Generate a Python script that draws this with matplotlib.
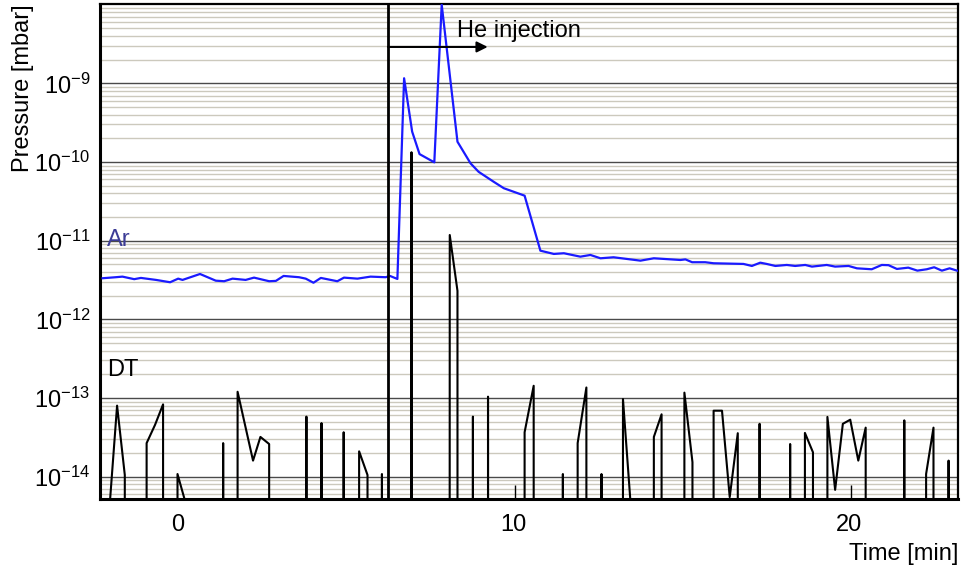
import matplotlib
matplotlib.use("Agg")
import matplotlib.pyplot as plt
from matplotlib.ticker import FixedLocator, LogFormatterSciNotation, NullLocator

plt.rcParams["font.family"] = ["Liberation Sans", "DejaVu Sans"]
plt.rcParams["mathtext.fontset"] = "custom"
plt.rcParams["mathtext.rm"] = "Liberation Sans"
plt.rcParams["mathtext.it"] = "Liberation Sans:italic"
plt.rcParams["mathtext.bf"] = "Liberation Sans:bold"

# Argon partial pressure [mbar] vs time [min]
ar_time = [-2.24, -1.85, -1.65, -1.30, -1.10, -0.65, -0.23, 0.01, 0.14, 0.66,
           1.13, 1.38, 1.63, 2.02, 2.27, 2.72, 2.92, 3.15, 3.61, 3.81,
           4.04, 4.26, 4.75, 4.95, 5.35, 5.74, 6.19, 6.32, 6.54,
           6.74, 6.98, 7.20, 7.64, 7.86, 8.33, 8.72, 8.96, 9.41, 9.71,
           10.33, 10.80, 11.20, 11.50, 11.99, 12.29, 12.59, 12.98, 13.78, 14.18,
           14.97, 15.12, 15.32, 15.71, 15.96, 16.85, 17.10, 17.35, 17.54, 17.80,
           18.14, 18.39, 18.69, 18.89, 19.33, 19.58, 19.98, 20.23, 20.67, 20.97,
           21.17, 21.42, 21.76, 22.03, 22.31, 22.53, 22.76, 22.99, 23.21]
ar_pressure = [3.33e-12, 3.43e-12, 3.49e-12, 3.24e-12, 3.36e-12, 3.17e-12, 2.96e-12, 3.29e-12, 3.17e-12, 3.77e-12,
               3.10e-12, 3.05e-12, 3.29e-12, 3.17e-12, 3.39e-12, 3.05e-12, 3.08e-12, 3.56e-12, 3.43e-12, 3.29e-12,
               2.92e-12, 3.36e-12, 3.05e-12, 3.39e-12, 3.29e-12, 3.49e-12, 3.43e-12, 3.56e-12, 3.26e-12,
               1.16e-9, 2.43e-10, 1.26e-10, 9.9e-11, 1.0e-8, 1.81e-10, 9.6e-11, 7.5e-11, 5.6e-11, 4.64e-11,
               3.73e-11, 7.46e-12, 6.78e-12, 6.92e-12, 6.26e-12, 6.58e-12, 5.97e-12, 6.15e-12, 5.57e-12, 5.97e-12,
               5.68e-12, 5.78e-12, 5.32e-12, 5.32e-12, 5.16e-12, 5.06e-12, 4.77e-12, 5.25e-12, 5.06e-12, 4.77e-12,
               4.91e-12, 4.77e-12, 4.91e-12, 4.68e-12, 4.91e-12, 4.68e-12, 4.77e-12, 4.45e-12, 4.33e-12, 4.91e-12,
               4.88e-12, 4.37e-12, 4.54e-12, 4.16e-12, 4.33e-12, 4.59e-12, 4.16e-12, 4.45e-12, 4.16e-12]

# DT partial pressure [mbar]; 0 = below detection
dt_time = [-2.25, -2.02, -1.81, -1.58, -1.25, -0.93, -0.68, -0.44, -0.22, -0.01,
           0.21, 0.80, 1.35, 1.60, 1.78, 2.24, 2.46, 2.72, 3.30, 3.83,
           4.05, 4.28, 4.60, 4.94, 5.20, 5.40, 5.65, 5.90, 6.08, 6.50,
           6.96, 7.50, 8.10, 8.33, 8.55, 8.79, 9.00, 9.24, 9.80, 10.33,
           10.60, 11.00, 11.47, 11.70, 11.91, 12.17, 12.40, 12.62, 12.90, 13.26,
           13.48, 13.80, 14.18, 14.41, 14.70, 15.09, 15.33, 15.60, 15.96, 16.21,
           16.44, 16.68, 17.00, 17.33, 17.80, 18.24, 18.45, 18.68, 18.92, 19.10,
           19.35, 19.58, 19.81, 20.03, 20.27, 20.49, 21.00, 21.64, 22.00, 22.29,
           22.51, 22.75, 22.96, 23.20]
dt_pressure = [0, 5e-15, 8.0e-14, 1.05e-14, 0, 2.67e-14, 4.55e-14, 8.3e-14, 0, 1.08e-14,
               5e-15, 0, 2.67e-14, 0, 1.2e-13, 1.6e-14, 3.2e-14, 2.6e-14, 0, 5.8e-14,
               0, 4.8e-14, 0, 3.67e-14, 0, 2.1e-14, 1.05e-14, 0, 1.08e-14, 0,
               1.33e-10, 0, 1.18e-11, 2.3e-12, 0, 5.8e-14, 0, 1.04e-13, 0, 3.67e-14,
               1.43e-13, 0, 1.08e-14, 0, 2.67e-14, 1.36e-13, 0, 1.08e-14, 0, 9.7e-14,
               5e-15, 0, 3.2e-14, 6.2e-14, 0, 1.17e-13, 1.53e-14, 0, 6.9e-14, 6.9e-14,
               5.5e-15, 3.57e-14, 0, 4.7e-14, 0, 2.6e-14, 0, 3.6e-14, 2.04e-14, 0,
               5.75e-14, 6.8e-15, 4.7e-14, 5.3e-14, 1.6e-14, 4.2e-14, 0, 5.2e-14, 0, 1.08e-14,
               4.2e-14, 0, 1.6e-14, 0]

# isolated DT counts just above the floor
dt_trace_time = [10.04, 20.05]
dt_trace_pressure = [7.9e-15, 7.9e-15]

injection_time = 6.26
injection_arrow_end = 9.23
arrow_level = 2.9e-9

x_ticks = [0, 10, 20]
y_ticks = [1e-14, 1e-13, 1e-12, 1e-11, 1e-10, 1e-9]

x_range = (-2.32, 23.24)
y_range = (5.2e-15, 1.02e-8)

FS = 17

fig = plt.figure(figsize=(9.63, 5.67), dpi=100)
ax = fig.add_axes([0.1038, 0.1199, 0.8910, 0.8731])
ax.set_yscale("log", nonpositive="clip")
ax.set_xlim(*x_range)
ax.set_ylim(*y_range)

# horizontal grid: decades dark, minor lines light
ax.yaxis.set_major_locator(FixedLocator(y_ticks))
ax.yaxis.set_major_formatter(LogFormatterSciNotation())
minor = [m * 10.0 ** e for e in range(-15, -7) for m in range(2, 10)]
ax.yaxis.set_minor_locator(FixedLocator(minor))
ax.xaxis.set_major_locator(FixedLocator(x_ticks))
ax.xaxis.set_minor_locator(NullLocator())
ax.grid(False, axis="x")
ax.grid(True, axis="y", which="minor", color="#ccc9bd", linewidth=1.0)
ax.grid(True, axis="y", which="major", color="#4a4a4a", linewidth=1.0)
ax.set_axisbelow(True)

ax.tick_params(axis="both", which="both", length=0, labelsize=FS)
ax.tick_params(axis="y", pad=7)
ax.tick_params(axis="x", pad=11)

for side in ("left", "bottom"):
    ax.spines[side].set_linewidth(2.2)
for side in ("top", "right"):
    ax.spines[side].set_linewidth(1.6)

# data
ax.plot(dt_time, dt_pressure, color="black", linewidth=1.5, zorder=3)
ax.vlines(dt_trace_time, y_range[0], dt_trace_pressure, color="black", linewidth=1.0, zorder=3)
ax.plot(ar_time, ar_pressure, color="#1a1aff", linewidth=1.6, zorder=4)

# helium injection marker
ax.axvline(injection_time, color="black", linewidth=2.0, zorder=5)
ax.annotate("", xy=(injection_arrow_end, arrow_level), xytext=(injection_time, arrow_level),
            arrowprops=dict(arrowstyle="-|>", color="black", lw=1.5,
                            mutation_scale=16, shrinkA=0, shrinkB=0), zorder=6)
ax.text(8.33, 3.84e-9, "He injection", fontsize=FS, ha="left", va="baseline", zorder=6)

ax.text(-2.11, 8.57e-12, "Ar", fontsize=FS, color="#3c3c96", ha="left", va="baseline")
ax.text(-2.11, 1.91e-13, "DT", fontsize=FS, color="black", ha="left", va="baseline")

ax.set_ylabel("Pressure [mbar]", fontsize=FS, loc="top", labelpad=0)
ax.set_xlabel("Time [min]", fontsize=FS, loc="right", labelpad=5)

fig.savefig("out.png", dpi=100, facecolor="white")
